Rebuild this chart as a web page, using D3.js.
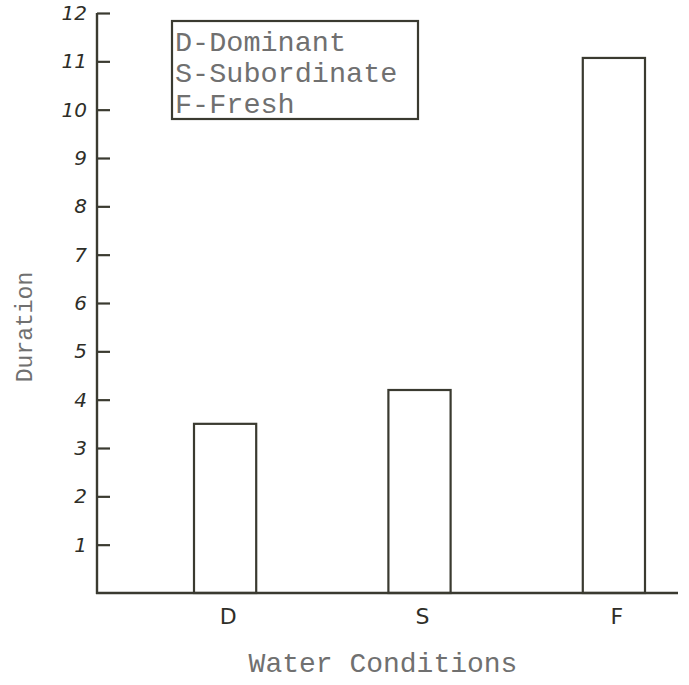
<!DOCTYPE html>
<html>
<head>
<meta charset="utf-8">
<script src="https://cdn.jsdelivr.net/npm/d3@7"></script>
<style>
  body { margin: 0; background: #fff; }
  svg { display: block; }
</style>
</head>
<body>
<svg id="chart"></svg>
<script>
const categories = ["D", "S", "F"];
const durations = [3.5, 4.2, 11.07];
const yTicks = [1, 2, 3, 4, 5, 6, 7, 8, 9, 10, 11, 12];
const legendLines = ["D-Dominant", "S-Subordinate", "F-Fresh"];

const width = 689, height = 685;
const ink = "#3a3a30";
const typeInk = "#707070";
const axisX = 97, baseY = 593;

const svg = d3.select("#chart")
    .attr("width", width)
    .attr("height", height);

const x = d3.scaleBand()
    .domain(categories)
    .range([194, 645])
    .paddingInner(0.68)
    .paddingOuter(0);

const y = d3.scaleLinear()
    .domain([0, 12])
    .range([baseY, 13]);

// bars
svg.selectAll(".bar")
    .data(categories)
    .join("rect")
    .attr("class", "bar")
    .attr("x", d => x(d))
    .attr("y", (d, i) => y(durations[i]))
    .attr("width", x.bandwidth())
    .attr("height", (d, i) => baseY - y(durations[i]))
    .attr("fill", "none")
    .attr("stroke", ink)
    .attr("stroke-width", 2.2);

// y axis, ticks point inwards
const yAxis = d3.axisRight(y)
    .tickValues(yTicks)
    .tickSize(13)
    .tickFormat("");
const yg = svg.append("g")
    .attr("transform", `translate(${axisX},0)`)
    .call(yAxis);
yg.select(".domain").remove();
yg.selectAll(".tick line")
    .attr("stroke", ink)
    .attr("stroke-width", 2.2);
svg.append("line")
    .attr("x1", axisX).attr("x2", axisX)
    .attr("y1", y(12)).attr("y2", baseY + 1)
    .attr("stroke", ink)
    .attr("stroke-width", 2.4);

// handwritten tick numbers
svg.selectAll(".ylab")
    .data(yTicks)
    .join("text")
    .attr("class", "ylab")
    .attr("x", axisX - 10)
    .attr("y", d => y(d) + 7)
    .attr("text-anchor", "end")
    .attr("font-family", "DejaVu Sans")
    .attr("font-style", "italic")
    .attr("font-size", 20)
    .attr("fill", "#2e2e28")
    .text(d => d);

// x axis
svg.append("line")
    .attr("x1", axisX - 1).attr("x2", 678)
    .attr("y1", baseY).attr("y2", baseY)
    .attr("stroke", ink)
    .attr("stroke-width", 2.6);

svg.selectAll(".xlab")
    .data(categories)
    .join("text")
    .attr("class", "xlab")
    .attr("x", d => x(d) + x.bandwidth() / 2 + 3)
    .attr("y", 624)
    .attr("text-anchor", "middle")
    .attr("font-family", "DejaVu Sans")
    .attr("font-size", 22)
    .attr("fill", "#2e2e28")
    .text(d => d);

// axis titles
svg.append("text")
    .attr("x", 383)
    .attr("y", 672)
    .attr("text-anchor", "middle")
    .attr("font-family", "Liberation Mono")
    .attr("font-size", 28)
    .attr("fill", typeInk)
    .text("Water Conditions");

svg.append("text")
    .attr("transform", "translate(32,327) rotate(-90)")
    .attr("text-anchor", "middle")
    .attr("font-family", "Liberation Mono")
    .attr("font-size", 23)
    .attr("fill", typeInk)
    .text("Duration");

// legend box
svg.append("rect")
    .attr("x", 172).attr("y", 21)
    .attr("width", 246).attr("height", 98)
    .attr("fill", "none")
    .attr("stroke", ink)
    .attr("stroke-width", 2.2);

svg.selectAll(".leg")
    .data(legendLines)
    .join("text")
    .attr("class", "leg")
    .attr("x", 175)
    .attr("y", (d, i) => 51 + i * 31)
    .attr("font-family", "Liberation Mono")
    .attr("font-size", 28.5)
    .attr("fill", typeInk)
    .text(d => d);
</script>
</body>
</html>
